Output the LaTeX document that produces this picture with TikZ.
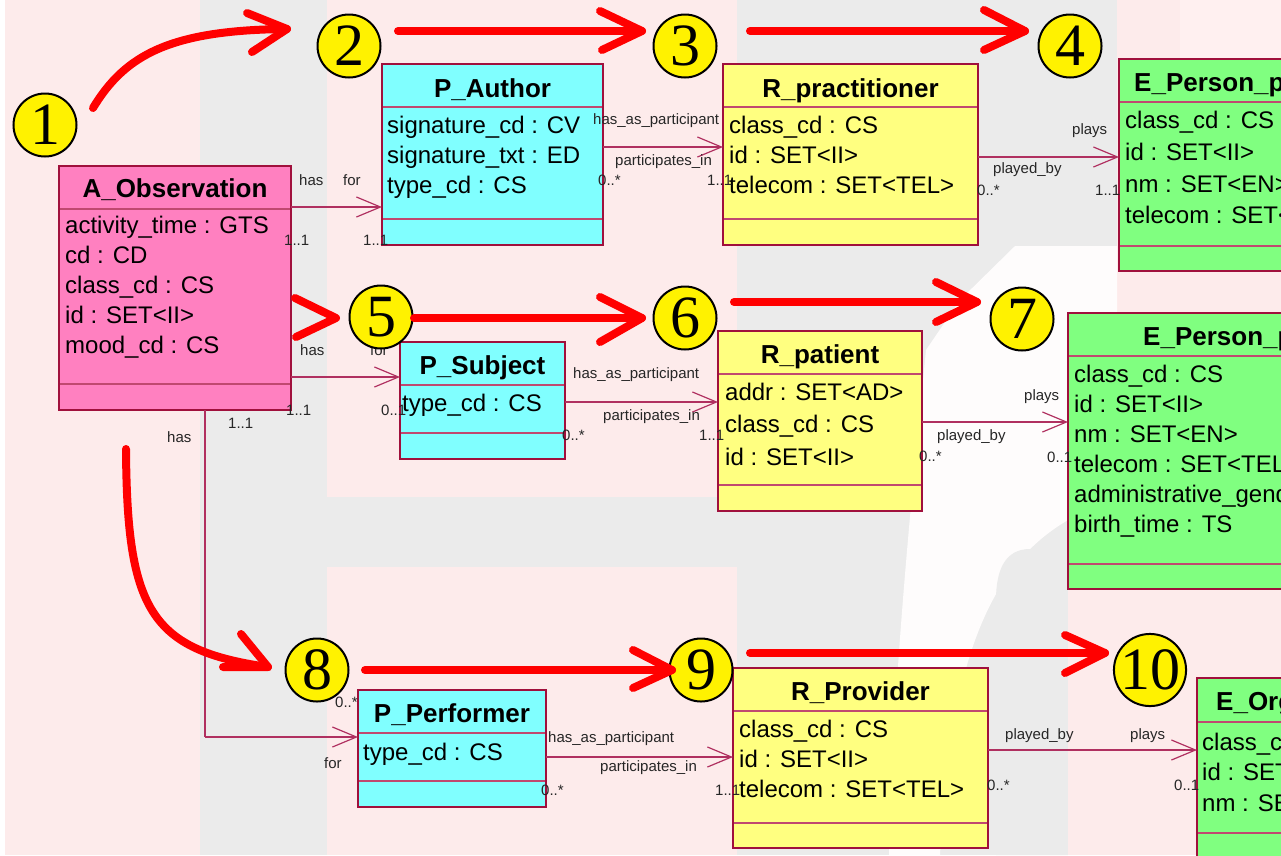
\documentclass[tikz,border=0pt]{standalone}
\usepackage{fontspec}
\setmainfont{Liberation Sans}
\newfontfamily\numfont{Liberation Serif}
\usetikzlibrary{calc,arrows.meta}

\definecolor{bgpink}{HTML}{FDEBEB}
\definecolor{bggrey}{HTML}{EBEBEB}
\definecolor{bgwhite}{HTML}{FEFCFC}
\definecolor{actfill}{HTML}{FF80C0}
\definecolor{partfill}{HTML}{80FFFF}
\definecolor{rolefill}{HTML}{FFFF80}
\definecolor{entfill}{HTML}{80FF80}
\definecolor{umlborder}{HTML}{A0103C}
\definecolor{umlsep}{HTML}{C04870}
\definecolor{assoccol}{HTML}{B03060}

\tikzset{
  classbody/.style={inner sep=0pt, outer sep=0pt, anchor=north west},
  sepline/.style={draw=umlsep, line width=1.5pt},
  frameline/.style={draw=umlborder, line width=2pt},
  ctitle/.style={font=\fontsize{26}{30}\selectfont\bfseries, anchor=base, inner sep=0pt},
  ctitlel/.style={ctitle, anchor=base west},
  attr/.style={font=\fontsize{24}{28}\selectfont, anchor=base west, inner sep=0pt},
  rolelabel/.style={font=\fontsize{15}{18}\selectfont, text=black!85, anchor=base west, inner sep=0pt},
  assoc/.style={draw=assoccol, line width=1.2pt, -{Straight Barb[length=24pt,width=20pt]}},
  plainassoc/.style={draw=assoccol, line width=1.2pt},
  stepnum/.style={circle, draw=black, line width=2pt, fill=yellow, minimum size=63pt,
    inner sep=0pt, font=\numfont\fontsize{60}{62}\selectfont},
  redpath/.style={draw=red, line width=8pt, line cap=round, line join=round},
}

% class box: name, fill, x1, y1, x2, y2, first separator, second separator
\newcommand\classbox[8]{%
  \node[classbody, fill=#2, minimum width={(#5-#3)*1pt}, minimum height={(#6-#4)*1pt}] (#1) at (#3,#4) {};
  \draw[sepline] (#1.west |- 0,#7) -- (#1.east |- 0,#7);
  \draw[sepline] (#1.west |- 0,#8) -- (#1.east |- 0,#8);
  \draw[frameline] (#1.north west) rectangle (#1.south east);
}

\begin{document}
\begin{tikzpicture}[x=1pt,y=-1pt]
\useasboundingbox (0,0) rectangle (1281,855);
\clip (0,0) rectangle (1281,855);

% faded backdrop
\fill[bgpink] (0,0) rectangle (1281,855);
\fill[white] (0,0) rectangle (5,855);
\fill[bggrey] (200,0) rectangle (327,855);
\fill[bggrey] (327,497) rectangle (737,567);
\fill[bggrey] (737,0) rectangle (1117,250);
\fill[bggrey] (737,250) rectangle (1068,855);
\fill[bgwhite] (1015,246) -- (1117,246) -- (1117,313) -- (1068,313) -- (1068,520)
  .. controls (1000,560) and (950,640) .. (940,855) -- (889,855)
  .. controls (893,700) and (905,560) .. (926,350) -- (960,300) -- cycle;
\fill[bggrey] (1068,549) -- (1030,549) .. controls (1005,549) and (996,570) .. (996,600)
  -- (996,855) -- (1068,855) -- cycle;
\fill[bgpink] (1068,589) rectangle (1281,855);
\fill[red!6] (1180,0) rectangle (1281,58);

% association end points
\coordinate (c1a) at (291,207);
\coordinate (c2a) at (291,377);
\coordinate (c3a) at (205,410);
\coordinate (c3b) at (205,737);
\coordinate (c4a) at (603,147);
\coordinate (c5a) at (978,157);
\coordinate (c6a) at (565,402);
\coordinate (c7a) at (922,422);
\coordinate (c8a) at (546,757);
\coordinate (c9a) at (988,750);

% classes
\classbox{obs}{actfill}{59}{166}{291}{410}{209}{384}
\classbox{auth}{partfill}{382}{64}{603}{245}{107}{219}
\classbox{prac}{rolefill}{723}{64}{978}{245}{107}{219}
\classbox{persA}{entfill}{1119}{59}{1300}{271}{102}{246}
\classbox{subj}{partfill}{400}{342}{565}{459}{385}{433}
\classbox{pat}{rolefill}{718}{331}{922}{511}{374}{485}
\classbox{persB}{entfill}{1068}{313}{1300}{589}{356}{564}
\classbox{perf}{partfill}{358}{690}{546}{807}{733}{781}
\classbox{prov}{rolefill}{733}{668}{988}{848}{711}{823}
\classbox{org}{entfill}{1197}{678}{1300}{880}{722}{833}

% associations
\draw[assoc] (c1a) -- (auth.west |- c1a);
\draw[assoc] (c2a) -- (subj.west |- c2a);
\draw[plainassoc] (c3a) -- (c3b);
\draw[assoc] (c3b) -- (perf.west |- c3b);
\draw[assoc] (c4a) -- (prac.west |- c4a);
\draw[assoc] (c5a) -- (persA.west |- c5a);
\draw[assoc] (c6a) -- (pat.west |- c6a);
\draw[assoc] (c7a) -- (persB.west |- c7a);
\draw[assoc] (c8a) -- (prov.west |- c8a);
\draw[assoc] (c9a) -- (org.west |- c9a);

% class contents
\node[ctitle] (obs-t) at (175,197) {A\_Observation};
\node[attr] (obs-1) at (65,233) {activity\_time : GTS};
\node[attr] (obs-2) at (65,263) {cd : CD};
\node[attr] (obs-3) at (65,293) {class\_cd : CS};
\node[attr] (obs-4) at (65,323) {id : SET<II>};
\node[attr] (obs-5) at (65,353) {mood\_cd : CS};

\node[ctitle] (auth-t) at (492.5,97) {P\_Author};
\node[attr] (auth-1) at (387,133) {signature\_cd : CV};
\node[attr] (auth-2) at (387,163) {signature\_txt : ED};
\node[attr] (auth-3) at (387,193) {type\_cd : CS};

\node[ctitle] (prac-t) at (850.5,97) {R\_practitioner};
\node[attr] (prac-1) at (729,133) {class\_cd : CS};
\node[attr] (prac-2) at (729,163) {id : SET<II>};
\node[attr] (prac-3) at (729,193) {telecom : SET<TEL>};

\node[ctitlel] (persA-t) at (1134,91) {E\_Person\_p};
\node[attr] (persA-1) at (1125,128) {class\_cd : CS};
\node[attr] (persA-2) at (1125,160) {id : SET<II>};
\node[attr] (persA-3) at (1125,192) {nm : SET<EN>};
\node[attr] (persA-4) at (1125,223) {telecom : SET<TEL>};

\node[ctitle] (subj-t) at (482.5,374) {P\_Subject};
\node[attr] (subj-1) at (402,411) {type\_cd : CS};

\node[ctitle] (pat-t) at (820,363) {R\_patient};
\node[attr] (pat-1) at (725,400) {addr : SET<AD>};
\node[attr] (pat-2) at (725,432) {class\_cd : CS};
\node[attr] (pat-3) at (725,465) {id : SET<II>};

\node[ctitlel] (persB-t) at (1143,345) {E\_Person\_p};
\node[attr] (persB-1) at (1074,382) {class\_cd : CS};
\node[attr] (persB-2) at (1074,412) {id : SET<II>};
\node[attr] (persB-3) at (1074,442) {nm : SET<EN>};
\node[attr] (persB-4) at (1074,472) {telecom : SET<TEL>};
\node[attr] (persB-5) at (1074,502) {administrative\_gender\_cd : CE};
\node[attr] (persB-6) at (1074,532) {birth\_time : TS};

\node[ctitle] (perf-t) at (452,722) {P\_Performer};
\node[attr] (perf-1) at (363,760) {type\_cd : CS};

\node[ctitle] (prov-t) at (860.5,700) {R\_Provider};
\node[attr] (prov-1) at (739,737) {class\_cd : CS};
\node[attr] (prov-2) at (739,767) {id : SET<II>};
\node[attr] (prov-3) at (739,797) {telecom : SET<TEL>};

\node[ctitlel] (org-t) at (1216,710) {E\_Organization};
\node[attr] (org-1) at (1202,750) {class\_cd : CS};
\node[attr] (org-2) at (1202,780) {id : SET<II>};
\node[attr] (org-3) at (1202,811) {nm : SET<EN>};

% association labels
\node[rolelabel] (l1a) at (299,185) {has};
\node[rolelabel] (l1b) at (343,185) {for};
\node[rolelabel] (l1c) at (284,245) {1..1};
\node[rolelabel] (l1d) at (363,245) {1..1};

\node[rolelabel] (l2a) at (300,355) {has};
\node[rolelabel] (l2b) at (370,355) {for};
\node[rolelabel] (l2c) at (286,415) {1..1};
\node[rolelabel] (l2d) at (381,415) {0..1};

\node[rolelabel] (l3a) at (228,428) {1..1};
\node[rolelabel] (l3b) at (167,442) {has};
\node[rolelabel] (l3c) at (335,707) {0..*};
\node[rolelabel] (l3d) at (324,768) {for};

\node[rolelabel] (l4a) at (593,124) {has\_as\_participant};
\node[rolelabel] (l4b) at (615,165) {participates\_in};
\node[rolelabel] (l4c) at (598,185) {0..*};
\node[rolelabel] (l4d) at (707,185) {1..1};

\node[rolelabel] (l5a) at (1072,134) {plays};
\node[rolelabel] (l5b) at (993,173) {played\_by};
\node[rolelabel] (l5c) at (977,195) {0..*};
\node[rolelabel] (l5d) at (1095,195) {1..1};

\node[rolelabel] (l6a) at (573,378) {has\_as\_participant};
\node[rolelabel] (l6b) at (603,420) {participates\_in};
\node[rolelabel] (l6c) at (562,440) {0..*};
\node[rolelabel] (l6d) at (699,440) {1..1};

\node[rolelabel] (l7a) at (1024,400) {plays};
\node[rolelabel] (l7b) at (937,440) {played\_by};
\node[rolelabel] (l7c) at (919,461) {0..*};
\node[rolelabel] (l7d) at (1047,462) {0..1};

\node[rolelabel] (l8a) at (548,742) {has\_as\_participant};
\node[rolelabel] (l8b) at (600,771) {participates\_in};
\node[rolelabel] (l8c) at (541,795) {0..*};
\node[rolelabel] (l8d) at (715,795) {1..1};

\node[rolelabel] (l9a) at (1005,739) {played\_by};
\node[rolelabel] (l9b) at (1130,739) {plays};
\node[rolelabel] (l9c) at (987,790) {0..*};
\node[rolelabel] (l9d) at (1174,790) {0..1};

% numbered steps
\node[stepnum] (n1) at (45,125) {1};
\node[stepnum] (n2) at (349,46) {2};
\node[stepnum] (n3) at (685,46) {3};
\node[stepnum] (n4) at (1070,46) {4};
\node[stepnum] (n5) at (381,317) {5};
\node[stepnum] (n6) at (685,318) {6};
\node[stepnum] (n7) at (1022,319) {7};
\node[stepnum] (n8) at (317,670) {8};
\node[stepnum] (n9) at (701,670) {9};
\node[stepnum] (n10) at (1150,670) {10};

% red reading-order arrows
\coordinate (ra-s) at (93,108);  \coordinate (ra-e) at (287,29);
\draw[redpath] (ra-s) .. controls (125,55) and (170,30) .. (ra-e);
\draw[redpath] ($(ra-e)+(-40,-16)$) -- (ra-e) -- ($(ra-e)+(-35,23)$);

\coordinate (rb-s) at (398,31);  \coordinate (rb-e) at (642,31);
\draw[redpath] (rb-s) -- (rb-e);
\draw[redpath] ($(rb-e)+(-42,-20)$) -- (rb-e) -- ($(rb-e)+(-40,19)$);

\coordinate (rc-s) at (750,31);  \coordinate (rc-e) at (1025,31);
\draw[redpath] (rc-s) -- (rc-e);
\draw[redpath] ($(rc-e)+(-41,-21)$) -- (rc-e) -- ($(rc-e)+(-41,19)$);

\coordinate (rd-e) at (336,318);
\draw[redpath] ($(rd-e)+(-41,-20)$) -- (rd-e) -- ($(rd-e)+(-40,19)$);

\coordinate (re-s) at (414,318);  \coordinate (re-e) at (642,318);
\draw[redpath] (re-s) -- (re-e);
\draw[redpath] ($(re-e)+(-42,-21)$) -- (re-e) -- ($(re-e)+(-42,24)$);

\coordinate (rf-s) at (734,302);  \coordinate (rf-e) at (977,302);
\draw[redpath] (rf-s) -- (rf-e);
\draw[redpath] ($(rf-e)+(-41,-20)$) -- (rf-e) -- ($(rf-e)+(-41,20)$);

\coordinate (rg-s) at (126,449);  \coordinate (rg-e) at (268,667);
\draw[redpath] (rg-s) .. controls (127,610) and (150,650) .. (rg-e);
\draw[redpath] ($(rg-e)+(-27,-33)$) -- (rg-e) -- ($(rg-e)+(-45,0)$);

\coordinate (rh-s) at (365,670);  \coordinate (rh-e) at (672,670);
\draw[redpath] (rh-s) -- (rh-e);
\draw[redpath] ($(rh-e)+(-39,-20)$) -- (rh-e) -- ($(rh-e)+(-39,18)$);

\coordinate (ri-s) at (750,653);  \coordinate (ri-e) at (1105,653);
\draw[redpath] (ri-s) -- (ri-e);
\draw[redpath] ($(ri-e)+(-40,-18)$) -- (ri-e) -- ($(ri-e)+(-40,20)$);
\end{tikzpicture}
\end{document}
